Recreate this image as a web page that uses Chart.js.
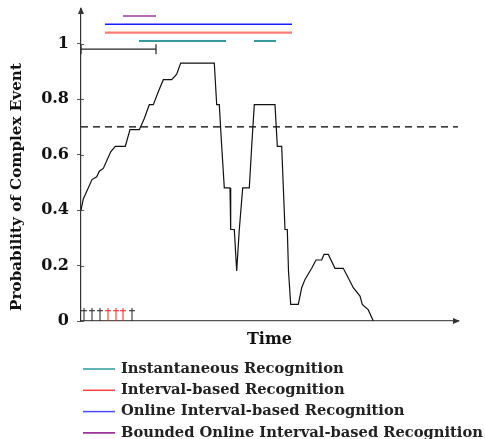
<!DOCTYPE html>
<html>
<head>
<meta charset="utf-8">
<script src="https://cdn.jsdelivr.net/npm/chart.js@4.4.1/dist/chart.umd.min.js"></script>
<style>
  html, body { margin: 0; padding: 0; background: #fff; }
  #wrap { width: 485px; height: 439px; }
</style>
</head>
<body>
<div id="wrap"><canvas id="chart"></canvas></div>
<script>
// probability of the complex event over time (time in arbitrary steps)
const time = [0, 2.3, 11, 15.7, 18.3, 22.3, 29.7, 34.3, 44.3, 49, 58.3, 63.3, 68.3, 72.3, 77.7, 82.3,
  90.7, 95.7, 99.7, 133.3, 135.7, 138.3, 140.7, 143.3, 149, 149.7, 153.3, 155.7, 158.3, 161.7,
  168.3, 170.7, 173.3, 194, 196.3, 200.7, 204, 206.3, 207.5, 209.7, 217.3, 220.7, 224, 230.7,
  235, 240.7, 243, 247.3, 254, 262.3, 272.3, 279, 281.3, 287.3, 292.3];
const probability = [0.40, 0.44, 0.51, 0.52, 0.54, 0.55, 0.61, 0.63, 0.63, 0.69, 0.69, 0.73, 0.78, 0.78, 0.83, 0.87,
  0.87, 0.89, 0.93, 0.93, 0.78, 0.78, 0.63, 0.48, 0.48, 0.33, 0.33, 0.18, 0.33, 0.48,
  0.48, 0.63, 0.78, 0.78, 0.63, 0.63, 0.33, 0.33, 0.18, 0.06, 0.06, 0.12, 0.15, 0.19,
  0.22, 0.22, 0.24, 0.24, 0.19, 0.19, 0.12, 0.09, 0.06, 0.04, 0];
const threshold = 0.7;
const timeEnd = 377;

// input events at the bottom (black and red daggers)
const blackEvents = [3, 11, 19, 51];
const redEvents = [27, 35, 42];

// recognised intervals [start, end]
const instantIntervals = [[58, 145], [173, 195]];
const intervalBased = [24, 211];
const onlineInterval = [24, 211];
const boundedInterval = [42, 75];
const windowBounds = [0, 75];

const yTicks = [0, 0.2, 0.4, 0.6, 0.8, 1];
const yTickLabels = ["0", "0.2", "0.4", "0.6", "0.8", "1"];

const serif = "'DejaVu Serif', 'Liberation Serif', serif";

function segment(range, y) {
  return [{ x: range[0], y: y }, { x: range[1], y: y }];
}

function daggers(xs) {
  const pts = [];
  xs.forEach(x => {
    pts.push({ x: x, y: 0 }, { x: x, y: 0.037, bar: true }, { x: x, y: 0.047 }, { x: x, y: null });
  });
  return pts;
}

const curve = time.map((t, i) => ({ x: t, y: probability[i] }));
const teal = [];
instantIntervals.forEach((r, i) => {
  if (i > 0) teal.push({ x: r[0], y: null });
  teal.push(...segment(r, 1.01));
});

const datasets = [
  { label: "Probability", data: curve, borderColor: "#111", borderWidth: 1.2, pointRadius: 0 },
  { label: "Threshold", data: segment([0, timeEnd], threshold), borderColor: "#000", borderWidth: 1.1,
    borderDash: [7, 5], pointRadius: 0 },
  { label: "Instantaneous Recognition", data: teal, borderColor: "#3a9a9a", legendColor: "#2a9a9a",
    borderWidth: 2, pointRadius: 0, spanGaps: false },
  { label: "Interval-based Recognition", data: segment(intervalBased, 1.04), borderColor: "#ff7b7b",
    legendColor: "#ff4040", borderWidth: 2.2, pointRadius: 0 },
  { label: "Online Interval-based Recognition", data: segment(onlineInterval, 1.07), borderColor: "#1a1aff",
    legendColor: "#4a4aff", borderWidth: 1.5, pointRadius: 0 },
  { label: "Bounded Online Interval-based Recognition", data: segment(boundedInterval, 1.10),
    borderColor: "#9b3aa0", legendColor: "#8b108b", borderWidth: 1.5, pointRadius: 0 },
  { label: "Window", data: segment(windowBounds, 0.98), borderColor: "#222", borderWidth: 1.2,
    pointStyle: "line", rotation: 90, pointRadius: 5, pointBorderWidth: 1.2, pointBorderColor: "#222" },
  { label: "Events", data: daggers(blackEvents), borderColor: "#222", borderWidth: 1, spanGaps: false,
    pointStyle: "line", pointRadius: c => (c.raw && c.raw.bar ? 3 : 0), pointBorderColor: "#222", pointBorderWidth: 1 },
  { label: "Events (red)", data: daggers(redEvents), borderColor: "#ff2020", borderWidth: 1, spanGaps: false,
    pointStyle: "line", pointRadius: c => (c.raw && c.raw.bar ? 3 : 0), pointBorderColor: "#ff2020", pointBorderWidth: 1 },
];

const legendNames = datasets.filter(d => d.legendColor);

const extras = {
  id: "extras",
  afterDraw(chart) {
    const { ctx, chartArea } = chart;
    ctx.save();
    // arrow heads on the axes
    ctx.fillStyle = "#333";
    ctx.beginPath();
    ctx.moveTo(chartArea.left, chartArea.top - 2);
    ctx.lineTo(chartArea.left - 3, chartArea.top + 5);
    ctx.lineTo(chartArea.left + 3, chartArea.top + 5);
    ctx.fill();
    ctx.beginPath();
    ctx.moveTo(chartArea.right + 2, chartArea.bottom);
    ctx.lineTo(chartArea.right - 5, chartArea.bottom - 3);
    ctx.lineTo(chartArea.right - 5, chartArea.bottom + 3);
    ctx.fill();

    // small inner part of the y ticks
    const y = chart.scales.y;
    ctx.strokeStyle = "#555";
    ctx.lineWidth = 1;
    yTicks.forEach(v => {
      const py = Math.round(y.getPixelForValue(v)) + 0.5;
      ctx.beginPath();
      ctx.moveTo(chartArea.left, py);
      ctx.lineTo(chartArea.left + 3, py);
      ctx.stroke();
    });

    // y axis title
    ctx.fillStyle = "#111";
    ctx.font = "bold 15.2px " + serif;
    ctx.textAlign = "center";
    ctx.textBaseline = "middle";
    ctx.translate(17, 187);
    ctx.rotate(-Math.PI / 2);
    ctx.fillText("Probability of Complex Event", 0, 0);
    ctx.restore();

    // legend, one entry per row
    ctx.save();
    ctx.font = "bold 14.7px " + serif;
    ctx.textBaseline = "middle";
    ctx.textAlign = "left";
    legendNames.forEach((d, i) => {
      const ly = 369 + i * 21.3;
      ctx.strokeStyle = d.legendColor;
      ctx.lineWidth = 1.5;
      ctx.beginPath();
      ctx.moveTo(83, ly);
      ctx.lineTo(115, ly);
      ctx.stroke();
      ctx.fillStyle = "#222";
      ctx.fillText(d.label, 121, ly);
    });
    ctx.restore();
  }
};

new Chart(document.getElementById("chart").getContext("2d"), {
  type: "line",
  data: { datasets: datasets },
  options: {
    responsive: true,
    maintainAspectRatio: false,
    animation: false,
    layout: { padding: { left: 0, right: 27, top: 9, bottom: 88 } },
    plugins: { legend: { display: false }, tooltip: { enabled: false } },
    scales: {
      x: {
        type: "linear",
        min: 0,
        max: timeEnd,
        grid: { display: false, drawTicks: false },
        border: { display: true, color: "#555", width: 1.3 },
        ticks: { display: false },
        title: { display: true, text: "Time", color: "#111", padding: { top: 0, bottom: 2 },
          font: { family: serif, size: 16, weight: "bold" } },
        afterFit: s => { s.height = 30; }
      },
      y: {
        min: 0,
        max: 1.125,
        afterBuildTicks: s => { s.ticks = yTicks.map(v => ({ value: v })); },
        grid: { drawOnChartArea: false, drawTicks: true, tickLength: 4, color: "#555" },
        border: { display: true, color: "#333", width: 1.2 },
        ticks: {
          padding: 8,
          color: "#111",
          font: { family: serif, size: 16, weight: "bold" },
          callback: (v, i) => yTickLabels[i]
        },
        afterFit: s => { s.width = 81; s.paddingTop = 0; s.paddingBottom = 0; }
      }
    }
  },
  plugins: [extras]
});
</script>
</body>
</html>
